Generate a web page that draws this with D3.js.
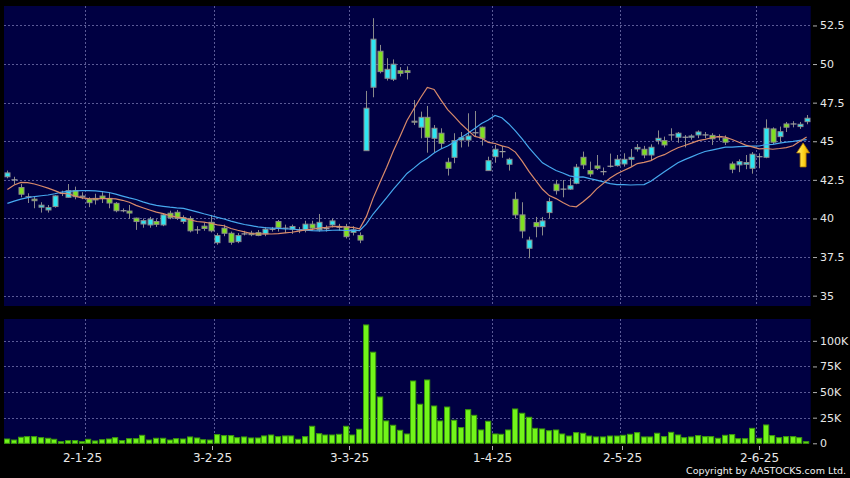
<!DOCTYPE html>
<html><head><meta charset="utf-8">
<script src="https://cdn.jsdelivr.net/npm/d3@7"></script>
<style>html,body{margin:0;padding:0;background:#000;}svg{display:block;}</style>
</head><body>
<svg id="chart" width="850" height="478"></svg>
<script>
// ---------- DATA ----------
const dates = [
"2024-12-12","2024-12-13","2024-12-16","2024-12-17","2024-12-18","2024-12-19","2024-12-20","2024-12-23","2024-12-24","2024-12-27","2024-12-30","2024-12-31",
"2025-01-02","2025-01-03","2025-01-06","2025-01-07","2025-01-08","2025-01-09","2025-01-10","2025-01-13","2025-01-14","2025-01-15","2025-01-16","2025-01-17","2025-01-20","2025-01-21","2025-01-22","2025-01-23","2025-01-24","2025-01-27","2025-01-28",
"2025-02-03","2025-02-04","2025-02-05","2025-02-06","2025-02-07","2025-02-10","2025-02-11","2025-02-12","2025-02-13","2025-02-14","2025-02-17","2025-02-18","2025-02-19","2025-02-20","2025-02-21","2025-02-24","2025-02-25","2025-02-26","2025-02-27","2025-02-28",
"2025-03-03","2025-03-04","2025-03-05","2025-03-06","2025-03-07","2025-03-10","2025-03-11","2025-03-12","2025-03-13","2025-03-14","2025-03-17","2025-03-18","2025-03-19","2025-03-20","2025-03-21","2025-03-24","2025-03-25","2025-03-26","2025-03-27","2025-03-28","2025-03-31",
"2025-04-01","2025-04-02","2025-04-03","2025-04-07","2025-04-08","2025-04-09","2025-04-10","2025-04-11","2025-04-14","2025-04-15","2025-04-16","2025-04-17","2025-04-22","2025-04-23","2025-04-24","2025-04-25","2025-04-28","2025-04-29","2025-04-30",
"2025-05-02","2025-05-06","2025-05-07","2025-05-08","2025-05-09","2025-05-12","2025-05-13","2025-05-14","2025-05-15","2025-05-16","2025-05-19","2025-05-20","2025-05-21","2025-05-22","2025-05-23","2025-05-26","2025-05-27","2025-05-28","2025-05-29","2025-05-30",
"2025-06-02","2025-06-03","2025-06-04","2025-06-05","2025-06-06","2025-06-09","2025-06-10","2025-06-11"];

const open = [42.70,42.50,42.00,41.40,41.25,40.73,40.55,40.77,41.63,41.37,41.80,41.45,41.26,41.30,41.45,41.30,40.98,40.50,40.48,40.02,
39.64,39.58,39.80,39.58,40.34,40.40,39.80,40.00,39.26,39.50,39.75,38.43,39.37,39.04,38.50,39.00,39.05,39.08,39.00,39.30,
39.80,39.37,39.30,39.26,39.26,39.63,39.26,39.34,39.58,39.43,39.47,39.10,38.90,44.39,48.50,50.83,49.08,49.02,49.57,49.57,
46.30,45.91,46.55,45.19,45.52,43.64,43.96,45.08,45.08,45.55,45.91,43.10,44.00,44.33,43.51,41.24,40.23,38.07,39.73,39.47,
40.38,42.22,41.90,41.90,42.28,43.96,43.10,43.40,43.03,43.38,43.42,43.53,43.83,44.50,44.48,44.11,45.04,45.04,45.41,45.26,
45.26,45.26,45.41,45.41,45.38,45.30,45.19,43.53,43.47,43.51,43.25,44.00,43.96,45.80,45.30,46.12,46.12,45.95,46.27];
const high = [43.10,42.70,42.23,41.63,41.45,41.05,40.87,41.50,41.80,42.23,42.06,41.70,41.37,41.60,41.70,41.70,41.06,40.65,40.87,40.05,
40.00,40.10,39.95,40.35,40.50,40.55,40.20,40.15,39.50,39.70,40.23,39.05,39.60,39.15,39.05,39.20,39.20,39.25,39.45,39.45,
39.90,39.60,39.60,39.45,39.85,39.85,40.29,39.55,40.00,39.65,39.65,39.50,39.10,48.26,52.97,51.24,50.38,50.30,49.80,49.85,
47.67,46.92,47.29,46.05,45.84,43.93,45.52,45.60,46.81,46.96,45.95,44.00,44.76,44.70,43.93,41.70,41.05,38.82,40.10,40.10,
41.34,42.50,42.49,42.60,43.53,44.33,43.68,44.11,43.30,44.20,44.11,44.22,44.50,44.82,44.70,44.80,45.70,45.30,45.84,45.60,
45.40,45.45,45.70,45.60,45.52,45.45,45.38,43.68,43.83,44.11,44.30,44.22,46.42,45.90,45.95,46.25,46.30,46.25,46.70];
const low = [42.60,42.20,41.37,41.00,40.66,40.38,40.38,40.70,41.45,41.35,41.24,41.25,40.73,40.90,41.00,40.66,40.40,40.40,39.97,39.26,
39.40,39.40,39.45,39.50,39.95,39.90,39.65,39.10,39.00,39.20,39.10,38.30,38.85,38.30,38.40,38.90,38.85,38.85,38.85,39.15,
39.15,39.05,39.00,39.05,39.10,39.20,39.15,39.15,39.42,39.20,38.70,38.90,38.40,44.39,47.85,49.40,48.93,48.90,49.20,49.00,
46.05,45.19,44.26,44.26,44.50,42.78,43.58,44.60,44.65,45.30,44.72,43.10,43.61,43.93,43.10,40.00,38.72,37.42,38.78,38.90,
39.99,41.55,41.37,41.85,42.22,43.20,42.70,43.14,42.80,43.30,43.36,43.36,43.40,44.33,43.90,43.76,44.80,44.60,45.04,44.90,
44.60,45.10,45.20,45.20,44.76,45.05,44.76,42.93,43.00,43.19,42.90,43.25,43.90,44.80,44.90,45.60,45.90,45.80,46.10];
const close = [42.95,42.50,41.57,41.40,41.15,40.86,40.70,41.46,41.63,41.80,41.41,41.40,41.02,41.20,41.30,41.00,40.50,40.50,40.35,39.80,
39.86,39.95,39.62,40.23,40.05,40.00,40.05,39.20,39.26,39.35,39.20,38.89,39.04,38.46,38.89,39.00,38.95,38.90,39.30,39.30,
39.40,39.37,39.48,39.26,39.63,39.37,39.75,39.34,39.84,39.43,38.82,39.26,38.60,47.14,51.61,49.51,49.66,49.99,49.40,49.45,
46.25,46.55,45.26,45.84,44.87,43.25,45.04,45.23,45.34,45.55,45.19,43.74,44.48,44.33,43.83,40.23,39.19,38.60,39.47,39.84,
41.10,41.80,41.90,42.12,43.32,43.47,42.88,43.25,43.03,43.38,43.83,43.83,43.96,44.60,44.11,44.61,45.19,44.76,45.41,45.52,
45.26,45.34,45.60,45.41,45.16,45.30,44.94,43.19,43.68,43.62,44.16,44.00,45.84,44.94,45.62,45.91,46.12,46.10,46.49];
const volume = [4200,3200,5900,6500,6500,5500,4900,3900,1600,2600,2600,1600,3900,2300,3500,4200,5500,2600,4500,4500,
7800,3200,4900,4900,3200,4500,4200,6200,5200,3500,3200,8500,7500,7500,5500,6200,5200,5200,7200,8100,
6500,7200,7200,3900,6500,16600,9400,8100,8100,8800,16600,8100,13700,115500,88900,45200,21800,17600,12700,9100,
60800,38100,61800,36400,21800,35400,22500,15300,32800,27300,13000,21500,9100,8800,13000,33500,29300,25400,14600,14000,
12300,13000,9100,7100,10400,9800,7100,6200,6200,7100,7100,7800,8800,10400,6200,6200,9800,6500,10700,8100,
5500,6200,7500,6500,6500,4900,7800,8500,4500,4500,14600,4900,17900,7500,5500,6500,6500,5500,1600];
const ma10Lead = [41.88,42.17,42.34,42.32,42.23,42.10,41.96,41.80,41.63];
const ma20Lead = [40.98,41.12,41.25,41.35,41.42,41.47,41.52,41.60,41.70,41.75,41.78,41.80,41.80,41.78,41.74,41.68,41.58,41.45,41.33];
const priceTicks = [35,37.5,40,42.5,45,47.5,50,52.5];
const volumeTicks = [0,25000,50000,75000,100000];
const dateTicks = ["2025-01-02","2025-02-03","2025-03-03","2025-04-01","2025-05-02","2025-06-02"];

// ---------- SETUP ----------
const svg = d3.select("#chart");
const FONT = "DejaVu Sans, Verdana, sans-serif";
const L = 4, R = 810, PT = 6, PB = 306, VT = 319, VB = 443.3;
const BG = "#000042", GRID = "#5a5a96";

const x = d3.scaleBand().domain(dates).range([L, R]).padding(0);
const xLabel = d3.scaleBand().domain(dates).range([0.3, 813.7]).padding(0);
const bw = x.bandwidth();
const y = d3.scaleLinear().domain([34.33, 53.76]).range([PB, PT]);
const yv = d3.scaleLinear().domain([0, 121300]).range([VB, VT]);

const parse = d3.timeParse("%Y-%m-%d");
const fmtDate = d => { const t = parse(d); return `${t.getDate()}-${t.getMonth()+1}-${d3.timeFormat("%y")(t)}`; };

function sma(n, lead) {
  return close.map((c, i) => i < lead.length ? lead[i] : d3.mean(close.slice(i - n + 1, i + 1)));
}
const ma10 = sma(10, ma10Lead), ma20 = sma(20, ma20Lead);

svg.append("rect").attr("width", 850).attr("height", 478).attr("fill", "#000");

// panels
[[PT, PB], [VT, VB]].forEach(([t, b]) => {
  svg.append("rect").attr("x", L).attr("y", t).attr("width", R + 0.7 - L).attr("height", b - t).attr("fill", BG);
});

// grids
const gp = svg.append("g").attr("stroke", GRID).attr("stroke-dasharray", "2,2").attr("stroke-width", 1);
priceTicks.forEach(v => gp.append("line").attr("x1", L).attr("x2", R).attr("y1", Math.round(y(v)) + 0.5).attr("y2", Math.round(y(v)) + 0.5));
volumeTicks.filter(v => v > 0).forEach(v => gp.append("line").attr("x1", L).attr("x2", R).attr("y1", Math.round(yv(v)) + 0.5).attr("y2", Math.round(yv(v)) + 0.5));
dateTicks.forEach(d => {
  const gx = Math.round(x(d)) + 0.5;
  gp.append("line").attr("x1", gx).attr("x2", gx).attr("y1", PT).attr("y2", PB);
  gp.append("line").attr("x1", gx).attr("x2", gx).attr("y1", VT).attr("y2", VB);
});

// candles
const cg = svg.append("g");
dates.forEach((d, i) => {
  const cx = Math.round(x(d) + bw / 2) + 0.5;
  const o = open[i], c = close[i];
  cg.append("line").attr("x1", cx).attr("x2", cx).attr("y1", y(high[i])).attr("y2", y(low[i]))
    .attr("stroke", "#8a8a8a").attr("stroke-width", 1);
  if (o === c) {
    cg.append("line").attr("x1", cx - 3).attr("x2", cx + 3).attr("y1", y(o)).attr("y2", y(o))
      .attr("stroke", "#a0a0a0").attr("stroke-width", 1.2);
  } else {
    const top = y(Math.max(o, c)), bot = y(Math.min(o, c));
    cg.append("rect").attr("x", cx - 2.5).attr("y", top).attr("width", 5).attr("height", Math.max(1, bot - top))
      .attr("fill", c > o ? "#2ee6f2" : "#7fe021").attr("stroke", "#8c8c8c").attr("stroke-width", 1);
  }
});

// moving averages
const line = arr => d3.line().x((d, i) => x(dates[i]) + bw / 2).y(d => y(d))(arr);
svg.append("path").attr("d", line(ma20)).attr("fill", "none").attr("stroke", "#46a8ee").attr("stroke-width", 1.2);
svg.append("path").attr("d", line(ma10)).attr("fill", "none").attr("stroke", "#d98a6a").attr("stroke-width", 1.2);

// arrow marker
const defs = svg.append("defs");
const lg = defs.append("linearGradient").attr("id", "ag").attr("x1", 0).attr("x2", 1).attr("y1", 0).attr("y2", 0);
lg.append("stop").attr("offset", "0%").attr("stop-color", "#fff27a");
lg.append("stop").attr("offset", "55%").attr("stop-color", "#ffd21a");
lg.append("stop").attr("offset", "100%").attr("stop-color", "#e0a000");
const last = dates.length - 1;
const ax = x(dates[last]) + bw / 2 - 3.5, ay = y(ma10[last]) + 6;
svg.append("path")
  .attr("d", `M${ax},${ay} L${ax + 6.5},${ay + 10} L${ax + 3},${ay + 10} L${ax + 3},${ay + 24} L${ax - 3},${ay + 24} L${ax - 3},${ay + 10} L${ax - 6.5},${ay + 10} Z`)
  .attr("fill", "url(#ag)").attr("stroke", "#b07800").attr("stroke-width", 0.8);

// volume bars
svg.append("g").selectAll("rect").data(volume).join("rect")
  .attr("x", (v, i) => Math.round(x(dates[i])) + 0.5)
  .attr("y", v => yv(v))
  .attr("width", 5.2)
  .attr("height", v => VB - yv(v))
  .attr("fill", "#72f51a").attr("stroke", "#3c9a0c").attr("stroke-width", 1);

// right axes
const styleAxis = g => {
  g.select(".domain").remove();
  g.selectAll(".tick line").attr("stroke", "#b0b0b0");
  g.selectAll(".tick text").attr("fill", "#e8e8e8").attr("font-size", 11).attr("font-family", FONT);
};
svg.append("g").attr("transform", "translate(813,0)")
  .call(d3.axisRight(y).tickValues(priceTicks).tickSize(4).tickPadding(3).tickFormat(d3.format("")))
  .call(styleAxis);
svg.append("g").attr("transform", "translate(813,0)")
  .call(d3.axisRight(yv).tickValues(volumeTicks).tickSize(4).tickPadding(3).tickFormat(v => v === 0 ? "0" : (v / 1000) + "K"))
  .call(styleAxis);

// bottom date axis
const xa = svg.append("g");
dateTicks.forEach(d => {
  const tx = Math.round(xLabel(d)) + 0.5;
  xa.append("line").attr("x1", tx).attr("x2", tx).attr("y1", 446).attr("y2", 450).attr("stroke", "#b0b0b0");
  xa.append("text").attr("x", tx).attr("y", 461.7).attr("text-anchor", "middle")
    .attr("fill", "#e8e8e8").attr("font-size", 12).attr("font-family", FONT).text(fmtDate(d));
});

svg.append("text").attr("x", 846).attr("y", 474).attr("text-anchor", "end")
  .attr("fill", "#f0f0f0").attr("font-size", 9.5).attr("font-family", FONT)
  .text("Copyright by AASTOCKS.com Ltd.");
</script>
</body></html>
